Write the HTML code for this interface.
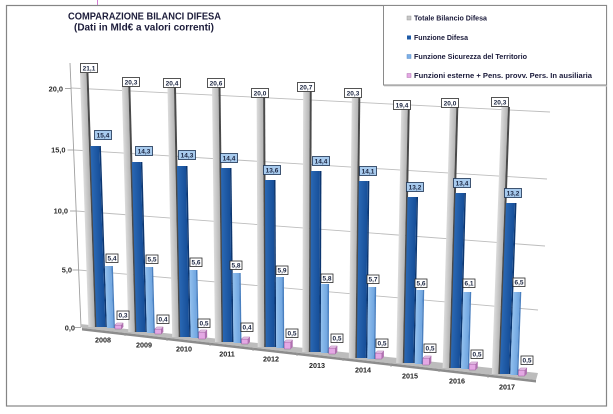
<!DOCTYPE html>
<html><head><meta charset="utf-8"><style>
html,body{margin:0;padding:0;background:#fff;}
svg{display:block;}
text{font-family:"Liberation Sans",Arial,sans-serif;font-weight:bold;}
</style></head><body>
<svg width="613" height="414" viewBox="0 0 613 414" xmlns="http://www.w3.org/2000/svg">
<defs>
<linearGradient id="gG" x1="0" x2="1" y1="0" y2="0"><stop offset="0" stop-color="#dcdcdc"/><stop offset="1" stop-color="#b4b4b4"/></linearGradient>
<linearGradient id="gD" x1="0" x2="1" y1="0" y2="0"><stop offset="0" stop-color="#2a68b4"/><stop offset="1" stop-color="#164e98"/></linearGradient>
<linearGradient id="gL" x1="0" x2="1" y1="0" y2="0"><stop offset="0" stop-color="#92c0ee"/><stop offset="1" stop-color="#6fa5e0"/></linearGradient>
</defs>
<rect width="613" height="414" fill="#fff"/>
<line x1="97.5" y1="0" x2="97.5" y2="5" stroke="#d27ad2" stroke-width="1"/>
<rect x="6.5" y="5.5" width="600" height="400.5" fill="none" stroke="#858585" stroke-width="1.2"/>
<text x="144.5" y="19.3" font-size="9.7" text-anchor="middle" fill="#1c1c3a" textLength="153" lengthAdjust="spacingAndGlyphs">COMPARAZIONE BILANCI DIFESA</text>
<text x="144" y="30.5" font-size="9.7" text-anchor="middle" fill="#1c1c3a" textLength="140" lengthAdjust="spacingAndGlyphs">(Dati in Mld€ a valori correnti)</text>
<rect x="383.5" y="5.5" width="223" height="79.5" fill="#fff" stroke="#8a8a8a" stroke-width="1"/>
<line x1="384" y1="86" x2="607" y2="86" stroke="#d0d0d0" stroke-width="1"/>
<rect x="407" y="16" width="4" height="4" fill="#c8c8c8" stroke="#9a9a9a" stroke-width="0.5"/>
<text x="414" y="20.5" font-size="7" fill="#1a1a3a" textLength="73" lengthAdjust="spacingAndGlyphs">Totale Bilancio Difesa</text>
<rect x="407" y="35.5" width="4" height="4" fill="#1d5aa6"/>
<text x="414" y="40" font-size="7" fill="#1a1a3a" textLength="54" lengthAdjust="spacingAndGlyphs">Funzione Difesa</text>
<rect x="407" y="54.5" width="4" height="4" fill="#7cb0e8" stroke="#5a8cc8" stroke-width="0.5"/>
<text x="414" y="59" font-size="7" fill="#1a1a3a" textLength="113" lengthAdjust="spacingAndGlyphs">Funzione Sicurezza del Territorio</text>
<rect x="407" y="73.5" width="4" height="4" fill="#e4a8e4" stroke="#b070b0" stroke-width="0.5"/>
<text x="414" y="78" font-size="7" fill="#1a1a3a" textLength="178" lengthAdjust="spacingAndGlyphs">Funzioni esterne + Pens. provv. Pers. In ausiliaria</text>

<g stroke="#bdbdbd" stroke-width="0.9">
<line x1="71" y1="88" x2="550" y2="112"/>
<line x1="73.5" y1="150" x2="547" y2="179"/>
<line x1="76" y1="211" x2="545" y2="246"/>
<line x1="78.5" y1="270" x2="538" y2="310"/>
</g>
<g stroke="#a0a0a0" stroke-width="0.9">
<line x1="70" y1="63" x2="81" y2="327"/>
<line x1="65" y1="88.5" x2="71" y2="88.5"/>
<line x1="67.5" y1="150" x2="73.5" y2="150"/>
<line x1="70" y1="211" x2="76" y2="211"/>
<line x1="72.5" y1="270" x2="78.5" y2="270"/>
<line x1="75" y1="327.5" x2="81" y2="327.5"/>
</g>
<g font-size="7.4" fill="#2a2a2a" text-anchor="end">
<text x="63" y="91.5">20,0</text>
<text x="65.5" y="152.5">15,0</text>
<text x="68" y="213.5">10,0</text>
<text x="72" y="272.5">5,0</text>
<text x="75" y="330.5">0,0</text>
</g>
<polygon points="80,324 538,373 536,380 82,328" fill="#bcbcbc"/>
<polygon points="82,328 536,380 536,382.5 82,330.5" fill="#8c8c8c"/>
<g stroke="#9a9a9a" stroke-width="0.8">
<line x1="125" y1="333" x2="125" y2="336"/>
<line x1="167" y1="338" x2="167" y2="341"/>
<line x1="210" y1="343" x2="210" y2="346"/>
<line x1="253" y1="348" x2="253" y2="351"/>
<line x1="297" y1="353" x2="297" y2="356"/>
<line x1="343" y1="358" x2="343" y2="361"/>
<line x1="391" y1="364" x2="391" y2="367"/>
<line x1="439" y1="369" x2="439" y2="372"/>
<line x1="488" y1="375" x2="488" y2="378"/>
</g>

<g transform="matrix(1 0 0.0332 1 -9.96 0)">
<rect x="87.5" y="73" width="6.5" height="254" fill="url(#gG)"/><rect x="94" y="73" width="2" height="254" fill="#4a4a4a"/>
<rect x="95.5" y="146" width="9" height="181" fill="url(#gD)"/><rect x="104.5" y="146" width="1.5" height="181" fill="#0c3670"/>
<rect x="106" y="266" width="6.5" height="62" fill="url(#gL)"/><rect x="112.5" y="266" width="1.5" height="62" fill="#4a80c0"/>
<rect x="114" y="325" width="6.5" height="4" fill="#e4a8e4" stroke="#8a4a8a" stroke-width="0.4"/>
<polygon points="114,325 116,323 122.5,323 120.5,325" fill="#f2d0f2" stroke="#8a4a8a" stroke-width="0.4"/>
<polygon points="120.5,325 122.5,323 122.5,327 120.5,329" fill="#b070b0"/>
</g>
<g transform="matrix(1 0 0.0264 1 -7.92 0)">
<rect x="127.5" y="86" width="6.5" height="246" fill="url(#gG)"/><rect x="134" y="86" width="2" height="246" fill="#4a4a4a"/>
<rect x="135.5" y="162" width="9" height="170" fill="url(#gD)"/><rect x="144.5" y="162" width="1.5" height="170" fill="#0c3670"/>
<rect x="146" y="267" width="6.5" height="66" fill="url(#gL)"/><rect x="152.5" y="267" width="1.5" height="66" fill="#4a80c0"/>
<rect x="154" y="329" width="6.5" height="5" fill="#e4a8e4" stroke="#8a4a8a" stroke-width="0.4"/>
<polygon points="154,329 156,327 162.5,327 160.5,329" fill="#f2d0f2" stroke="#8a4a8a" stroke-width="0.4"/>
<polygon points="160.5,329 162.5,327 162.5,332 160.5,334" fill="#b070b0"/>
</g>
<g transform="matrix(1 0 0.0189 1 -5.67 0)">
<rect x="171.5" y="87" width="6.5" height="250" fill="url(#gG)"/><rect x="178" y="87" width="2" height="250" fill="#4a4a4a"/>
<rect x="179.5" y="166" width="9" height="171" fill="url(#gD)"/><rect x="188.5" y="166" width="1.5" height="171" fill="#0c3670"/>
<rect x="190" y="270" width="6.5" height="68" fill="url(#gL)"/><rect x="196.5" y="270" width="1.5" height="68" fill="#4a80c0"/>
<rect x="198" y="332" width="6.5" height="7" fill="#e4a8e4" stroke="#8a4a8a" stroke-width="0.4"/>
<polygon points="198,332 200,330 206.5,330 204.5,332" fill="#f2d0f2" stroke="#8a4a8a" stroke-width="0.4"/>
<polygon points="204.5,332 206.5,330 206.5,337 204.5,339" fill="#b070b0"/>
</g>
<g transform="matrix(1 0 0.0116 1 -3.48 0)">
<rect x="214.5" y="87" width="6.5" height="255" fill="url(#gG)"/><rect x="221" y="87" width="2" height="255" fill="#4a4a4a"/>
<rect x="222.5" y="168" width="9" height="174" fill="url(#gD)"/><rect x="231.5" y="168" width="1.5" height="174" fill="#0c3670"/>
<rect x="233" y="273" width="6.5" height="70" fill="url(#gL)"/><rect x="239.5" y="273" width="1.5" height="70" fill="#4a80c0"/>
<rect x="241" y="339" width="6.5" height="5" fill="#e4a8e4" stroke="#8a4a8a" stroke-width="0.4"/>
<polygon points="241,339 243,337 249.5,337 247.5,339" fill="#f2d0f2" stroke="#8a4a8a" stroke-width="0.4"/>
<polygon points="247.5,339 249.5,337 249.5,342 247.5,344" fill="#b070b0"/>
</g>
<g transform="matrix(1 0 0.0043 1 -1.29 0)">
<rect x="257.5" y="97" width="6.5" height="250" fill="url(#gG)"/><rect x="264" y="97" width="2" height="250" fill="#4a4a4a"/>
<rect x="265.5" y="180" width="9" height="167" fill="url(#gD)"/><rect x="274.5" y="180" width="1.5" height="167" fill="#0c3670"/>
<rect x="276" y="277" width="6.5" height="71" fill="url(#gL)"/><rect x="282.5" y="277" width="1.5" height="71" fill="#4a80c0"/>
<rect x="284" y="342" width="6.5" height="7" fill="#e4a8e4" stroke="#8a4a8a" stroke-width="0.4"/>
<polygon points="284,342 286,340 292.5,340 290.5,342" fill="#f2d0f2" stroke="#8a4a8a" stroke-width="0.4"/>
<polygon points="290.5,342 292.5,340 292.5,347 290.5,349" fill="#b070b0"/>
</g>
<g transform="matrix(1 0 -0.0034 1 1.02 0)">
<rect x="302.5" y="91" width="6.5" height="261" fill="url(#gG)"/><rect x="309" y="91" width="2" height="261" fill="#4a4a4a"/>
<rect x="310.5" y="171" width="9" height="181" fill="url(#gD)"/><rect x="319.5" y="171" width="1.5" height="181" fill="#0c3670"/>
<rect x="321" y="284" width="6.5" height="69" fill="url(#gL)"/><rect x="327.5" y="284" width="1.5" height="69" fill="#4a80c0"/>
<rect x="329" y="348" width="6.5" height="6" fill="#e4a8e4" stroke="#8a4a8a" stroke-width="0.4"/>
<polygon points="329,348 331,346 337.5,346 335.5,348" fill="#f2d0f2" stroke="#8a4a8a" stroke-width="0.4"/>
<polygon points="335.5,348 337.5,346 337.5,352 335.5,354" fill="#b070b0"/>
</g>
<g transform="matrix(1 0 -0.0114 1 3.42 0)">
<rect x="349.5" y="98" width="6.5" height="260" fill="url(#gG)"/><rect x="356" y="98" width="2" height="260" fill="#4a4a4a"/>
<rect x="357.5" y="181" width="9" height="177" fill="url(#gD)"/><rect x="366.5" y="181" width="1.5" height="177" fill="#0c3670"/>
<rect x="368" y="287" width="6.5" height="72" fill="url(#gL)"/><rect x="374.5" y="287" width="1.5" height="72" fill="#4a80c0"/>
<rect x="376" y="353" width="6.5" height="6" fill="#e4a8e4" stroke="#8a4a8a" stroke-width="0.4"/>
<polygon points="376,353 378,351 384.5,351 382.5,353" fill="#f2d0f2" stroke="#8a4a8a" stroke-width="0.4"/>
<polygon points="382.5,353 384.5,351 384.5,357 382.5,359" fill="#b070b0"/>
</g>
<g transform="matrix(1 0 -0.0196 1 5.88 0)">
<rect x="397.5" y="109" width="6.5" height="254" fill="url(#gG)"/><rect x="404" y="109" width="2" height="254" fill="#4a4a4a"/>
<rect x="405.5" y="197" width="9" height="166" fill="url(#gD)"/><rect x="414.5" y="197" width="1.5" height="166" fill="#0c3670"/>
<rect x="416" y="290" width="6.5" height="74" fill="url(#gL)"/><rect x="422.5" y="290" width="1.5" height="74" fill="#4a80c0"/>
<rect x="424" y="358" width="6.5" height="7" fill="#e4a8e4" stroke="#8a4a8a" stroke-width="0.4"/>
<polygon points="424,358 426,356 432.5,356 430.5,358" fill="#f2d0f2" stroke="#8a4a8a" stroke-width="0.4"/>
<polygon points="430.5,358 432.5,356 432.5,363 430.5,365" fill="#b070b0"/>
</g>
<g transform="matrix(1 0 -0.0275 1 8.25 0)">
<rect x="444.5" y="107" width="6.5" height="261" fill="url(#gG)"/><rect x="451" y="107" width="2" height="261" fill="#4a4a4a"/>
<rect x="452.5" y="193" width="9" height="175" fill="url(#gD)"/><rect x="461.5" y="193" width="1.5" height="175" fill="#0c3670"/>
<rect x="463" y="292" width="6.5" height="77" fill="url(#gL)"/><rect x="469.5" y="292" width="1.5" height="77" fill="#4a80c0"/>
<rect x="471" y="364" width="6.5" height="6" fill="#e4a8e4" stroke="#8a4a8a" stroke-width="0.4"/>
<polygon points="471,364 473,362 479.5,362 477.5,364" fill="#f2d0f2" stroke="#8a4a8a" stroke-width="0.4"/>
<polygon points="477.5,364 479.5,362 479.5,368 477.5,370" fill="#b070b0"/>
</g>
<g transform="matrix(1 0 -0.036 1 10.8 0)">
<rect x="494.5" y="107" width="6.5" height="267" fill="url(#gG)"/><rect x="501" y="107" width="2" height="267" fill="#4a4a4a"/>
<rect x="502.5" y="203" width="9" height="171" fill="url(#gD)"/><rect x="511.5" y="203" width="1.5" height="171" fill="#0c3670"/>
<rect x="513" y="292" width="6.5" height="83" fill="url(#gL)"/><rect x="519.5" y="292" width="1.5" height="83" fill="#4a80c0"/>
<rect x="521" y="370" width="6.5" height="6" fill="#e4a8e4" stroke="#8a4a8a" stroke-width="0.4"/>
<polygon points="521,370 523,368 529.5,368 527.5,370" fill="#f2d0f2" stroke="#8a4a8a" stroke-width="0.4"/>
<polygon points="527.5,370 529.5,368 529.5,374 527.5,376" fill="#b070b0"/>
</g>

<g font-size="7.2" fill="#222" text-anchor="middle">
<text x="103" y="342.5">2008</text>
<text x="144" y="347.5">2009</text>
<text x="184" y="351.5">2010</text>
<text x="227" y="356.5">2011</text>
<text x="271" y="361.5">2012</text>
<text x="317" y="368">2013</text>
<text x="363" y="372.5">2014</text>
<text x="410" y="378.5">2015</text>
<text x="457" y="383.5">2016</text>
<text x="507" y="389.5">2017</text>
</g>

<g fill="#fff" stroke="#2a2a2a" stroke-width="0.8">
<rect x="80.5" y="63.5" width="17" height="9"/>
<rect x="122.5" y="77.5" width="17" height="9"/>
<rect x="163.5" y="78.5" width="17" height="9"/>
<rect x="207.5" y="78.5" width="17" height="9"/>
<rect x="251.5" y="88.5" width="17" height="9"/>
<rect x="297.5" y="82.5" width="17" height="9"/>
<rect x="344.5" y="88.5" width="17" height="9"/>
<rect x="393.5" y="100.5" width="17" height="9"/>
<rect x="441.5" y="98.5" width="17" height="9"/>
<rect x="491.5" y="97.5" width="17" height="9"/>
</g>
<g fill="#a8cbee" stroke="#1a3050" stroke-width="0.8">
<rect x="94.5" y="130.5" width="17" height="9"/>
<rect x="135.5" y="146.5" width="17" height="9"/>
<rect x="178.5" y="150.5" width="17" height="9"/>
<rect x="220.5" y="153.5" width="17" height="9"/>
<rect x="263.5" y="165.5" width="17" height="9"/>
<rect x="312.5" y="156.5" width="17" height="9"/>
<rect x="359.5" y="166.5" width="17" height="9"/>
<rect x="406.5" y="182.5" width="17" height="9"/>
<rect x="453.5" y="178.5" width="17" height="9"/>
<rect x="504.5" y="188.5" width="17" height="9"/>
</g>
<g fill="#fff" stroke="#2a2a2a" stroke-width="0.8">
<rect x="106" y="254" width="12" height="8.5"/>
<rect x="146" y="255" width="12" height="8.5"/>
<rect x="190" y="258" width="12" height="8.5"/>
<rect x="230" y="261" width="12" height="8.5"/>
<rect x="276" y="266" width="12" height="8.5"/>
<rect x="321" y="274" width="12" height="8.5"/>
<rect x="367" y="275" width="12" height="8.5"/>
<rect x="415" y="279" width="12" height="8.5"/>
<rect x="463" y="279" width="12" height="8.5"/>
<rect x="513" y="278" width="12" height="8.5"/>
<rect x="117" y="311" width="12" height="8.5"/>
<rect x="157" y="315" width="12" height="8.5"/>
<rect x="198" y="319" width="12" height="8.5"/>
<rect x="241" y="323" width="12" height="8.5"/>
<rect x="286" y="329" width="12" height="8.5"/>
<rect x="331" y="334" width="12" height="8.5"/>
<rect x="376" y="339" width="12" height="8.5"/>
<rect x="424" y="344" width="12" height="8.5"/>
<rect x="471" y="350" width="12" height="8.5"/>
<rect x="521" y="356" width="12" height="8.5"/>
</g>
<g font-size="6.5" fill="#1a2440" text-anchor="middle">
<text x="89" y="70.3">21,1</text>
<text x="131" y="84.3">20,3</text>
<text x="172" y="85.3">20,4</text>
<text x="216" y="85.3">20,6</text>
<text x="260" y="95.3">20,0</text>
<text x="306" y="89.3">20,7</text>
<text x="353" y="95.3">20,3</text>
<text x="402" y="107.3">19,4</text>
<text x="450" y="105.3">20,0</text>
<text x="500" y="104.3">20,3</text>
<text x="103" y="137.3">15,4</text>
<text x="144" y="153.3">14,3</text>
<text x="187" y="157.3">14,3</text>
<text x="229" y="160.3">14,4</text>
<text x="272" y="172.3">13,6</text>
<text x="321" y="163.3">14,4</text>
<text x="368" y="173.3">14,1</text>
<text x="415" y="189.3">13,2</text>
<text x="462" y="185.3">13,4</text>
<text x="513" y="195.3">13,2</text>
<text x="112" y="260.6">5,4</text>
<text x="152" y="261.6">5,5</text>
<text x="196" y="264.6">5,6</text>
<text x="236" y="267.6">5,8</text>
<text x="282" y="272.6">5,9</text>
<text x="327" y="280.6">5,8</text>
<text x="373" y="281.6">5,7</text>
<text x="421" y="285.6">5,6</text>
<text x="469" y="285.6">6,1</text>
<text x="519" y="284.6">6,5</text>
<text x="123" y="317.6">0,3</text>
<text x="163" y="321.6">0,4</text>
<text x="204" y="325.6">0,5</text>
<text x="247" y="329.6">0,4</text>
<text x="292" y="335.6">0,5</text>
<text x="337" y="340.6">0,5</text>
<text x="382" y="345.6">0,5</text>
<text x="430" y="350.6">0,5</text>
<text x="477" y="356.6">0,5</text>
<text x="527" y="362.6">0,5</text>
</g>
</svg>
</body></html>
